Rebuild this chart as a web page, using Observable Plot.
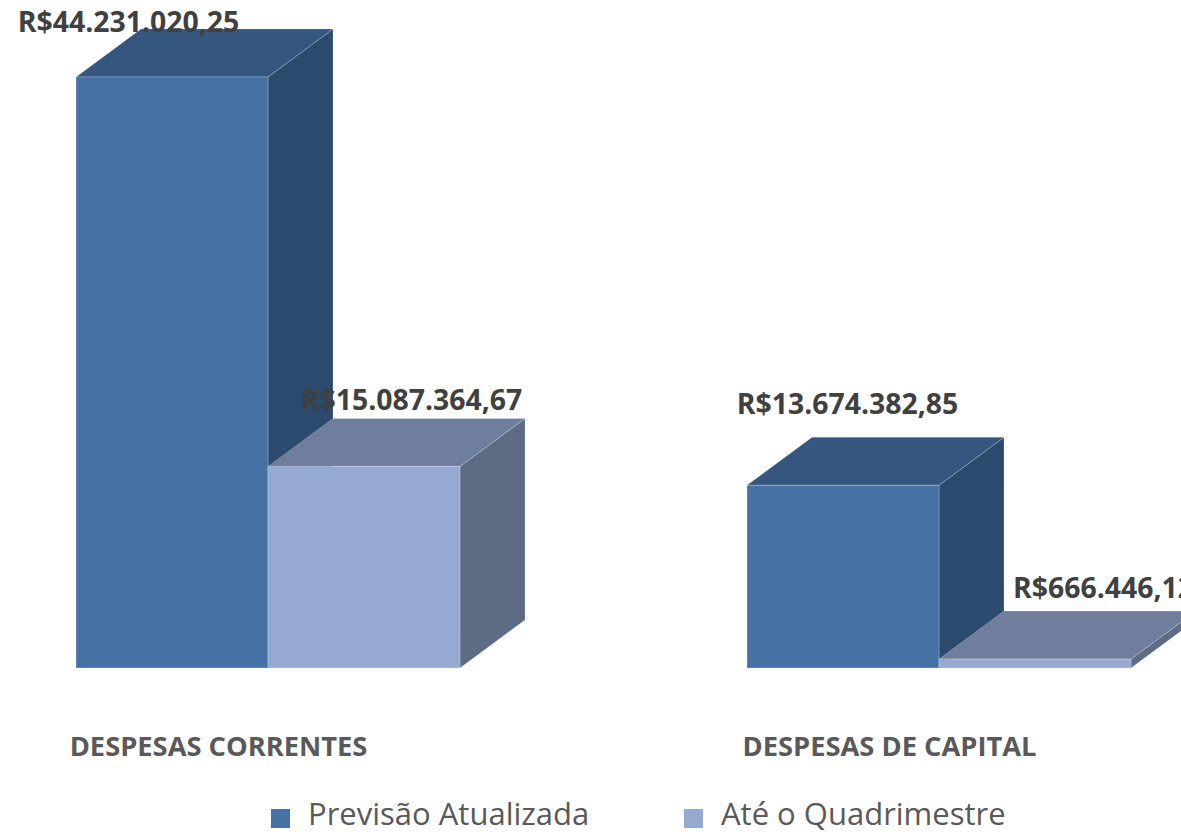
<!DOCTYPE html>
<html>
<head>
<meta charset="utf-8">
<script src="https://cdn.jsdelivr.net/npm/d3@7"></script>
<script src="https://cdn.jsdelivr.net/npm/@observablehq/plot@0.6"></script>
<style>
  html, body { margin: 0; padding: 0; background: #ffffff; }
  #wrap { width: 1181px; height: 835px; overflow: hidden; position: relative; }
  #chart { height: 790px; }
  #chart svg { display: block; }
  #legend { position: relative; height: 45px; font-family: 'Open Sans', sans-serif; color: #595959; }
  .item { position: absolute; top: 2px; height: 42px; line-height: 42px; display: flex; align-items: center; font-size: 31px; white-space: nowrap; }
  .sw { width: 19px; height: 19px; margin-right: 18px; position: relative; top: 5px; }
</style>
</head>
<body>
<div id="wrap">
  <div id="chart"></div>
  <div id="legend"></div>
</div>
<script>
// ---- data ----
const groups = ["DESPESAS CORRENTES", "DESPESAS DE CAPITAL"];
const series = ["Previsão Atualizada", "Até o Quadrimestre"];
const previsaoAtualizada = [44231020.25, 13674382.85];
const ateOQuadrimestre = [15087364.67, 666446.12];

// ---- styles ----
const frontColors = ["#4571a5", "#95a9d1"];
const topColors = ["#34567f", "#6f7e9d"];
const sideColors = ["#2c4a6d", "#5e6b84"];

const seriesValues = [previsaoAtualizada, ateOQuadrimestre];
const data = [];
groups.forEach((g, gi) => series.forEach((s, si) => data.push({group: g, series: s, value: seriesValues[si][gi]})));

const br = d3.formatLocale({decimal: ",", thousands: ".", grouping: [3], currency: ["R$", ""]});
const fmt = br.format("$,.2f");

const pick = (gi, si) => d => d.group === groups[gi] && d.series === series[si];
const labelStyle = {x: "series", y: "value", text: d => fmt(d.value), fontSize: 28.4, fontWeight: "bold", fill: "#404040", lineAnchor: "middle"};

const chart = Plot.plot({
  width: 1181,
  height: 790,
  marginLeft: 76,
  marginRight: 50,
  marginTop: 77,
  marginBottom: 122,
  style: {fontFamily: "'Open Sans', sans-serif", background: "transparent", overflow: "visible"},
  facet: {data, x: "group"},
  fx: {domain: groups, paddingInner: 0.4277, paddingOuter: 0, round: false, axis: null},
  x: {domain: series, padding: 0, round: false, axis: null},
  y: {domain: [0, d3.max(data, d => d.value)], axis: null},
  color: {domain: series, range: frontColors},
  marks: [
    Plot.barY(data, {x: "series", y: "value", fill: "series", stroke: "#ffffff", strokeOpacity: 0.25, strokeWidth: 1}),
    Plot.text(data, {...labelStyle, filter: pick(0, 0), dx: -44, dy: -55}),
    Plot.text(data, {...labelStyle, filter: pick(0, 1), dx: 47, dy: -66}),
    Plot.text(data, {...labelStyle, filter: pick(1, 0), dx: 4, dy: -81}),
    Plot.text(data, {...labelStyle, filter: pick(1, 1), dx: 68, dy: -71}),
    Plot.text(data, {filter: d => d.series === series[0], frameAnchor: "bottom", text: "group", dx: -50, dy: 79,
      lineAnchor: "middle", fontSize: 27.3, fontWeight: "bold", fill: "#595959"})
  ]
});
document.getElementById("chart").append(chart);

// ---- 3D extrusion derived from the bars Plot drew ----
const depthX = 65, depthY = -48;
const svg = chart.tagName.toLowerCase() === "svg" ? chart : chart.querySelector("svg");
const sb = svg.getBoundingClientRect();
const rects = [...svg.querySelectorAll('g[aria-label="bar"] rect')];
const boxes = rects.map(r => {
  const b = r.getBoundingClientRect();
  const fill = (r.getAttribute("fill") || "").toLowerCase();
  const si = Math.max(0, frontColors.indexOf(fill));
  return {x1: b.left - sb.left, x2: b.right - sb.left, y1: b.top - sb.top, y2: b.bottom - sb.top, si};
}).sort((a, b) => a.x1 - b.x1);
const ns = "http://www.w3.org/2000/svg";
const faces = document.createElementNS(ns, "g");
faces.setAttribute("aria-label", "bar-depth");
const poly = (pts, fill) => {
  const p = document.createElementNS(ns, "polygon");
  p.setAttribute("points", pts.map(q => q.join(",")).join(" "));
  p.setAttribute("fill", fill);
  p.setAttribute("stroke", "#ffffff");
  p.setAttribute("stroke-opacity", "0.2");
  p.setAttribute("stroke-width", "1");
  faces.appendChild(p);
};
boxes.forEach(b => {
  poly([[b.x2, b.y1], [b.x2 + depthX, b.y1 + depthY], [b.x2 + depthX, b.y2 + depthY], [b.x2, b.y2]], sideColors[b.si]);
  poly([[b.x1, b.y1], [b.x2, b.y1], [b.x2 + depthX, b.y1 + depthY], [b.x1 + depthX, b.y1 + depthY]], topColors[b.si]);
});
if (rects.length) {
  let top = rects[0];
  while (top.parentNode && top.parentNode !== svg) top = top.parentNode;
  svg.insertBefore(faces, top);
}

// ---- legend ----
const legend = document.getElementById("legend");
const legendLeft = [271, 684];
series.forEach((s, i) => {
  const item = document.createElement("div");
  item.className = "item";
  item.style.left = legendLeft[i] + "px";
  const sw = document.createElement("div");
  sw.className = "sw";
  sw.style.background = frontColors[i];
  const t = document.createElement("span");
  t.textContent = s;
  item.append(sw, t);
  legend.append(item);
});
</script>
</body>
</html>
